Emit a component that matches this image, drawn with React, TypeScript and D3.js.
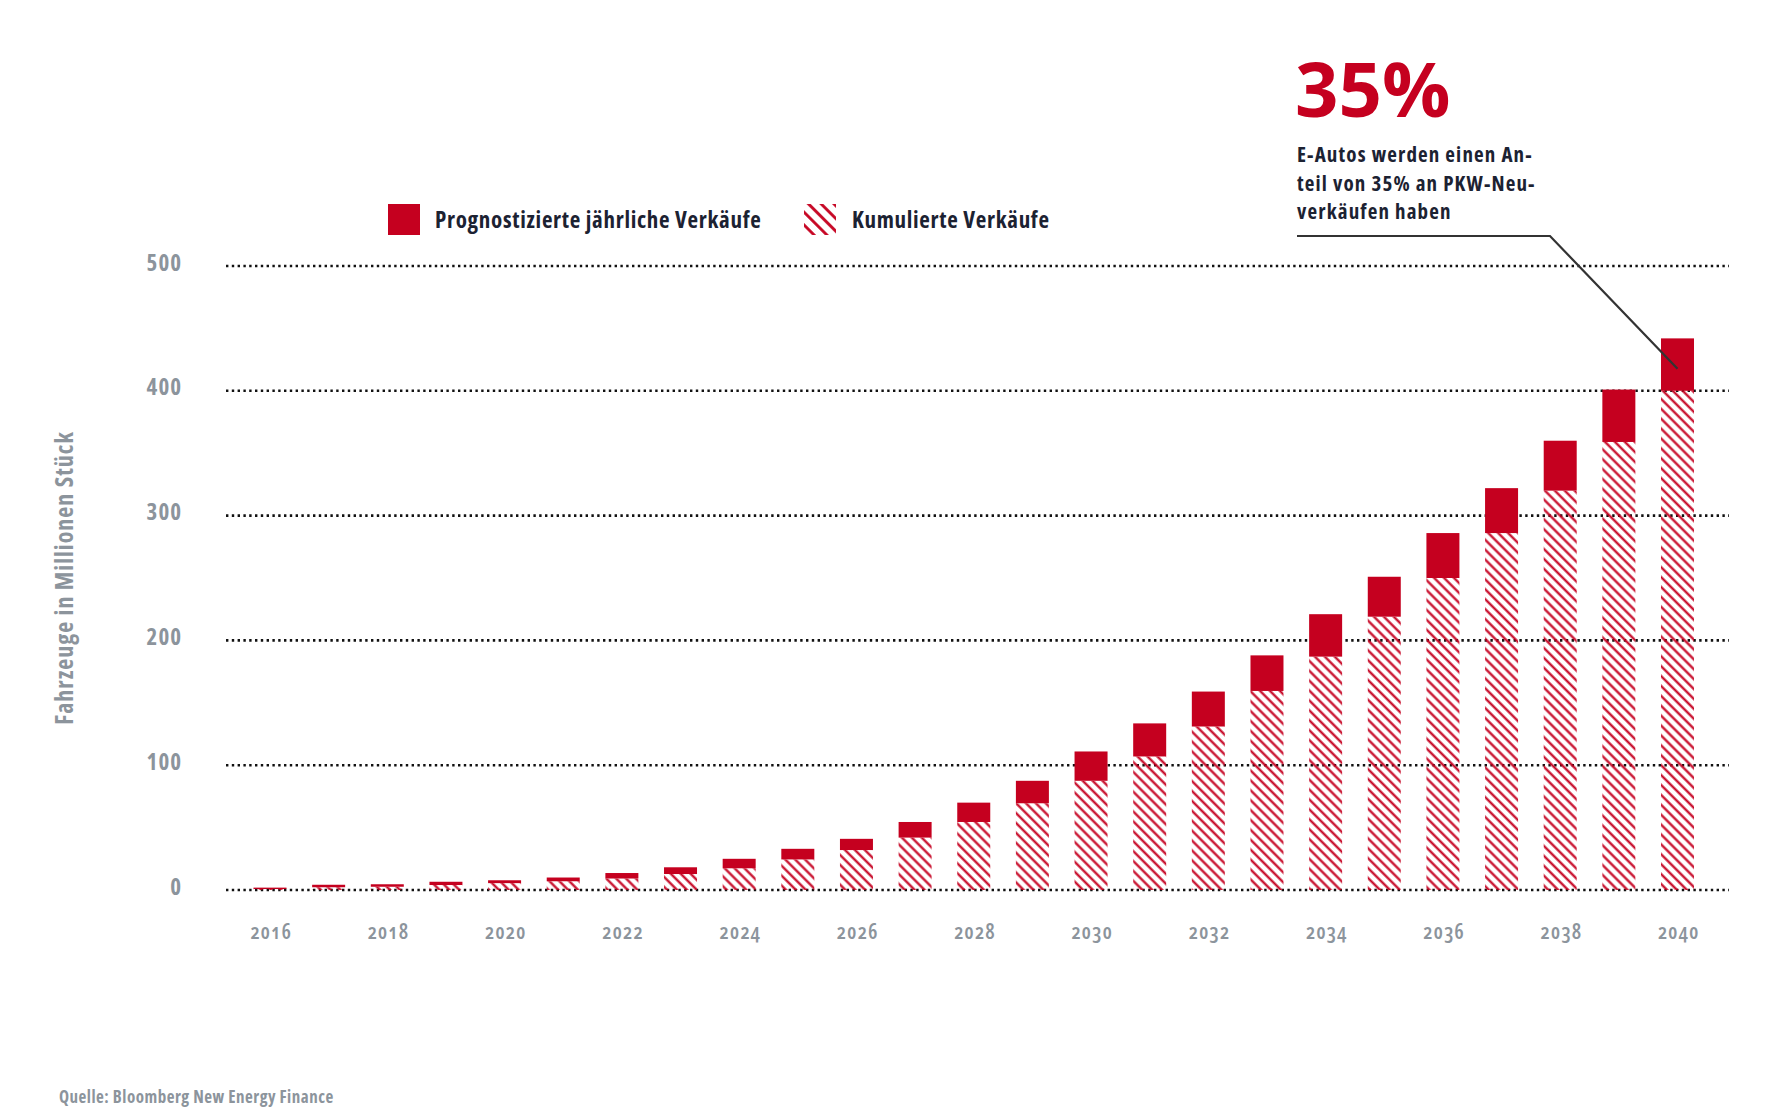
import * as d3 from 'd3';

// Jahre der Prognose
const jahre = [
  2016, 2017, 2018, 2019, 2020, 2021, 2022, 2023, 2024, 2025, 2026, 2027, 2028,
  2029, 2030, 2031, 2032, 2033, 2034, 2035, 2036, 2037, 2038, 2039, 2040,
];

// kumulierte Verkäufe bis zum Vorjahr (Mio. Stück), schraffierter Teil
const kumuliert = [
  0.8, 2.2, 2.6, 4, 5.5, 7, 9.2, 12.8, 17.4, 24.5, 32, 42, 54.5, 69.5, 87.5,
  107, 131, 159.5, 187, 219, 250, 286, 320, 359, 400,
];

// prognostizierte jährliche Verkäufe (Mio. Stück), roter Teil
const jaehrlich = [
  1.1, 2, 2, 2.6, 2.3, 3, 4.4, 5.4, 7.6, 8.5, 9, 12.5, 15.5, 18, 23.5, 26.5, 28,
  28.5, 34, 32, 36, 36, 40, 42, 42,
];

const yTicks = [0, 100, 200, 300, 400, 500];
const xTickJahre = [2016, 2018, 2020, 2022, 2024, 2026, 2028, 2030, 2032, 2034, 2036, 2038, 2040];

const anmerkungZeilen = ['E-Autos werden einen An-', 'teil von 35% an PKW-Neu-', 'verkäufen haben'];

const width = 1772;
const height = 1118;
const rot = '#c5001f';
const dunkel = '#1c2232';
const grau = '#8c949c';
const schrift = "'Open Sans', 'DejaVu Sans Condensed', sans-serif";
const eng = { fontStretch: '75%' };

export default function App(): JSX.Element {
  const x = d3.scalePoint<number>().domain(jahre).range([270, 1677.5]);
  const y = d3.scaleLinear().domain([0, 500]).range([890, 266]);
  const barW = 33;

  return (
    <svg
      width={width}
      height={height}
      viewBox={`0 0 ${width} ${height}`}
      style={{ position: 'absolute', left: 0, top: 0, background: '#fff' }}
    >
      <defs>
        <pattern id="schraffur" patternUnits="userSpaceOnUse" width={7} height={7} patternTransform="rotate(-45)">
          <line x1={3.5} y1={-1} x2={3.5} y2={8} stroke={rot} strokeWidth={2.2} />
        </pattern>
        <pattern id="schraffurLegende" patternUnits="userSpaceOnUse" width={9} height={9} patternTransform="rotate(-45)">
          <line x1={4.5} y1={-1} x2={4.5} y2={10} stroke={rot} strokeWidth={2.8} />
        </pattern>
      </defs>

      {/* Gitterlinien */}
      {yTicks.map((t) => (
        <line
          key={t}
          x1={226}
          x2={1729}
          y1={y(t)}
          y2={y(t)}
          stroke="#111"
          strokeWidth={2.6}
          strokeDasharray="2.4 3.4"
        />
      ))}

      {/* Y-Achse */}
      {yTicks.map((t) => (
        <text
          key={t}
          x={182}
          y={y(t)}
          dy="0.2em"
          textAnchor="end"
          fill={grau}
          fontFamily={schrift}
          fontWeight={700}
          fontSize={23}
          letterSpacing={1}
          style={eng}
        >
          {t}
        </text>
      ))}
      <text
        transform={`translate(73, ${y(250)}) rotate(-90)`}
        textAnchor="middle"
        fill={grau}
        fontFamily={schrift}
        fontWeight={700}
        fontSize={24}
        letterSpacing={1}
        style={eng}
      >
        Fahrzeuge in Millionen Stück
      </text>

      {/* X-Achse */}
      {xTickJahre.map((j) => (
        <text
          key={j}
          x={(x(j) ?? 0) + 1}
          y={939}
          textAnchor="middle"
          fill={grau}
          fontFamily={schrift}
          fontWeight={600}
          fontSize={21}
          letterSpacing={1}
          style={{ ...eng, fontVariantNumeric: 'oldstyle-nums' }}
        >
          {j}
        </text>
      ))}

      {/* Balken */}
      {jahre.map((j, i) => {
        const cx = x(j) ?? 0;
        const k = kumuliert[i];
        const a = jaehrlich[i];
        return (
          <g key={j}>
            <rect x={cx - barW / 2} y={y(k)} width={barW} height={y(0) - y(k)} fill="url(#schraffur)" />
            <rect x={cx - barW / 2} y={y(k + a)} width={barW} height={y(k) - y(k + a)} fill={rot} />
          </g>
        );
      })}

      {/* Legende */}
      <rect x={388} y={204} width={32} height={31} fill={rot} />
      <text
        x={435}
        y={228}
        fill={dunkel}
        fontFamily={schrift}
        fontWeight={700}
        fontSize={23}
        letterSpacing={0.7}
        style={eng}
      >
        Prognostizierte jährliche Verkäufe
      </text>
      <rect x={804} y={204} width={32} height={31} fill="url(#schraffurLegende)" />
      <text
        x={852}
        y={228}
        fill={dunkel}
        fontFamily={schrift}
        fontWeight={700}
        fontSize={23}
        letterSpacing={0.7}
        style={eng}
      >
        Kumulierte Verkäufe
      </text>

      {/* Anmerkung */}
      <text
        x={1295}
        y={117}
        fill={rot}
        fontFamily={schrift}
        fontWeight={700}
        fontSize={76}
        style={{ fontStretch: '100%' }}
      >
        35%
      </text>
      {anmerkungZeilen.map((z, i) => (
        <text
          key={z}
          x={1297}
          y={162 + i * 28.5}
          fill={dunkel}
          fontFamily={schrift}
          fontWeight={700}
          fontSize={21}
          letterSpacing={1.15}
          style={eng}
        >
          {z}
        </text>
      ))}
      <polyline
        points={`1297,236 1550,236 ${x(2040)},${y(400) - 22}`}
        fill="none"
        stroke="#333"
        strokeWidth={2.2}
      />

      {/* Quelle */}
      <text
        x={59}
        y={1103}
        fill={grau}
        fontFamily={schrift}
        fontWeight={700}
        fontSize={17}
        letterSpacing={0.5}
        style={eng}
      >
        Quelle: Bloomberg New Energy Finance
      </text>
    </svg>
  );
}
